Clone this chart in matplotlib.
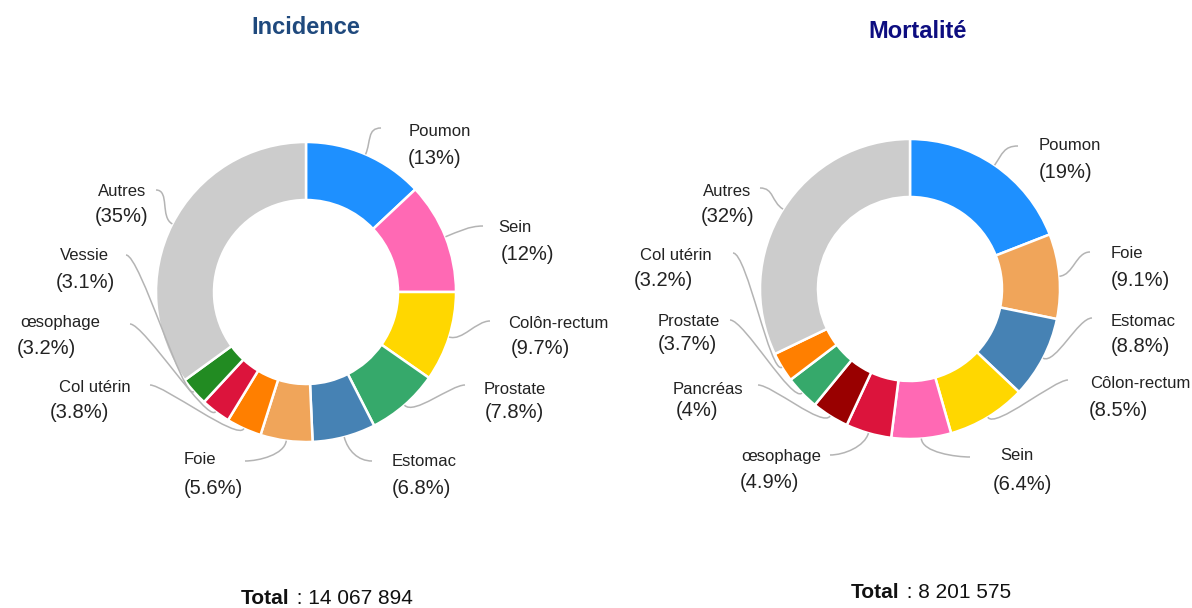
import numpy as np
import matplotlib
matplotlib.use("Agg")
import matplotlib.pyplot as plt
from matplotlib.path import Path
from matplotlib.patches import PathPatch

plt.rcParams['font.family'] = ['Liberation Sans', 'DejaVu Sans']

# ---------------- data ----------------
inc_labels = ["Poumon", "Sein", "Colôn-rectum", "Prostate", "Estomac", "Foie",
              "Col utérin", "œsophage", "Vessie", "Autres"]
inc_values = [13, 12, 9.7, 7.8, 6.8, 5.6, 3.8, 3.2, 3.1, 35]
inc_pct = ["13%", "12%", "9.7%", "7.8%", "6.8%", "5.6%", "3.8%", "3.2%", "3.1%", "35%"]
inc_total = "14 067 894"

mor_labels = ["Poumon", "Foie", "Estomac", "Côlon-rectum", "Sein", "œsophage",
              "Pancréas", "Prostate", "Col utérin", "Autres"]
mor_values = [19, 9.1, 8.8, 8.5, 6.4, 4.9, 4, 3.7, 3.2, 32]
mor_pct = ["19%", "9.1%", "8.8%", "8.5%", "6.4%", "4.9%", "4%", "3.7%", "3.2%", "32%"]
mor_total = "8 201 575"

# ---------------- styles ----------------
color_map = {
    "Poumon": "#1E90FF", "Sein": "#FF69B4", "Colôn-rectum": "#FFD700",
    "Côlon-rectum": "#FFD700", "Prostate": "#36A96B", "Estomac": "#4682B4",
    "Foie": "#F0A55A", "Col utérin": "#FF7F00", "œsophage": "#DC143C",
    "Vessie": "#228B22", "Pancréas": "#990000", "Autres": "#CCCCCC",
}

W, H = 1192, 608
fig = plt.figure(figsize=(W / 100, H / 100), dpi=100)
ax = fig.add_axes([0, 0, 1, 1])

def Y(y):
    return H - y

# label layout (pixel coordinates): name centre, pct centre, line end point
inc_layout = {
    "Poumon": ((440, 132), (435, 158), (381, 128)),
    "Sein": ((515, 228), (527, 255), (483, 226)),
    "Colôn-rectum": ((558, 323), (540, 349), (490, 321)),
    "Prostate": ((515, 390), (514, 413), (465, 385)),
    "Estomac": ((424, 462), (421, 488), (372, 461)),
    "Foie": ((200, 460), (213, 488), (245, 461)),
    "Col utérin": ((95, 388), (79, 412), (150, 385)),
    "œsophage": ((60, 322), (46, 348), (130, 324)),
    "Vessie": ((84, 256), (85, 282), (126, 255)),
    "Autres": ((122, 191), (122, 216), (156, 190)),
}
mor_layout = {
    "Poumon": ((1070, 146), (1066, 173), (1018, 146)),
    "Foie": ((1127, 253), (1140, 280), (1090, 252)),
    "Estomac": ((1143, 322), (1140, 347), (1092, 318)),
    "Côlon-rectum": ((1140, 383), (1118, 410), (1068, 380)),
    "Sein": ((1017, 455), (1022, 484), (970, 457)),
    "œsophage": ((781, 457), (769, 483), (830, 455)),
    "Pancréas": ((708, 390), (697, 410), (758, 385)),
    "Prostate": ((689, 322), (687, 345), (730, 320)),
    "Col utérin": ((676, 256), (663, 280), (733, 253)),
    "Autres": ((727, 191), (728, 216), (760, 188)),
}

R_OUT = 150
R_IN = 92
LINE_COLOR = "#B4B4B4"
TEXT_COLOR = "#222222"


def donut(cx, cy, labels, values, pcts, layout):
    cols = [color_map[l] for l in labels]
    ax.pie(values, colors=cols, startangle=90, counterclock=False,
           center=(cx, Y(cy)), radius=R_OUT,
           wedgeprops=dict(width=R_OUT - R_IN, edgecolor="white", linewidth=1.8))
    total = float(sum(values))
    cum = np.cumsum([0] + list(values[:-1]))
    for lab, v, c0, p in zip(labels, values, cum, pcts):
        theta = np.deg2rad(90 - 360 * (c0 + v / 2) / total)
        ux, uy = np.cos(theta), np.sin(theta)
        ex, ey = cx + R_OUT * ux, Y(cy) + R_OUT * uy
        (nx, ny), (px, py), (lx, ly) = layout[lab]
        lx, ly = lx, Y(ly)
        d = 14
        c1 = (ex + d * ux, ey + d * uy)
        sgn = 1 if lx > cx else -1
        c2 = (lx - sgn * d, ly)
        path = Path([(ex, ey), c1, c2, (lx, ly)],
                    [Path.MOVETO, Path.CURVE4, Path.CURVE4, Path.CURVE4])
        ax.add_patch(PathPatch(path, fill=False, edgecolor=LINE_COLOR, lw=1.1))
        ax.text(nx, Y(ny), lab, ha="center", va="center", fontsize=12, color=TEXT_COLOR)
        ax.text(px, Y(py), f"({p})", ha="center", va="center", fontsize=14.5, color=TEXT_COLOR)


donut(306, 292, inc_labels, inc_values, inc_pct, inc_layout)
donut(910, 289, mor_labels, mor_values, mor_pct, mor_layout)

ax.set_xlim(0, W)
ax.set_ylim(0, H)
ax.set_aspect("equal")
ax.axis("off")

ax.text(306, Y(27), "Incidence", ha="center", va="center", fontsize=17,
        fontweight="bold", color="#1F497D")
ax.text(918, Y(31), "Mortalité", ha="center", va="center", fontsize=17,
        fontweight="bold", color="#0D0D80")

ax.text(289, Y(598), "Total", ha="right", va="center", fontsize=15,
        fontweight="bold", color="#111111")
ax.text(291, Y(598), " : " + inc_total, ha="left", va="center", fontsize=15,
        color="#111111")
ax.text(899, Y(593), "Total", ha="right", va="center", fontsize=15,
        fontweight="bold", color="#111111")
ax.text(901, Y(593), " : " + mor_total, ha="left", va="center", fontsize=15,
        color="#111111")

fig.savefig("out.png", dpi=100, facecolor="white")
